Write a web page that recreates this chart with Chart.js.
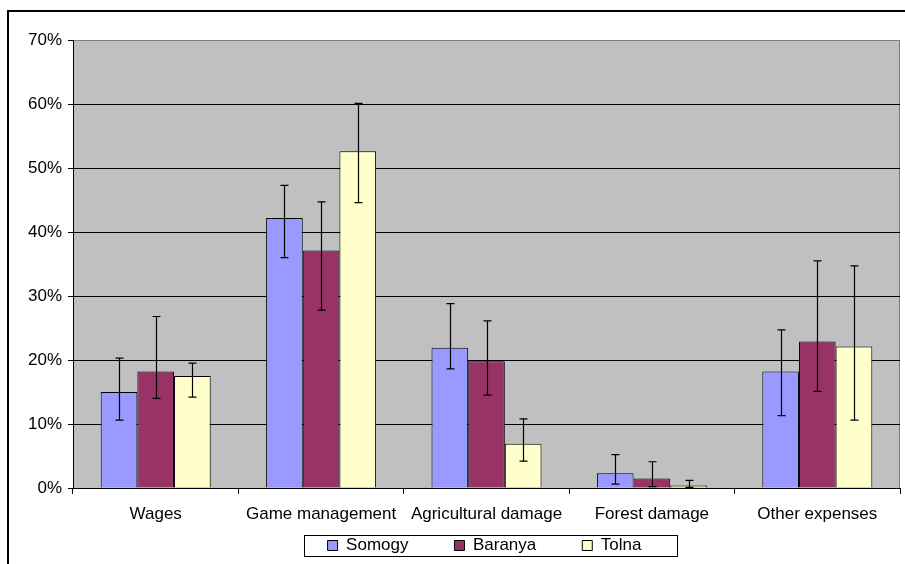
<!DOCTYPE html>
<html>
<head>
<meta charset="utf-8">
<script src="https://cdn.jsdelivr.net/npm/chart.js@4.4.1/dist/chart.umd.min.js"></script>
<style>
    html, body { margin: 0; padding: 0; background: #ffffff; }
    #wrap { width: 905px; height: 564px; position: relative; }
</style>
</head>
<body>
<div id="wrap"><canvas id="costChart" width="905" height="564"></canvas></div>
<script>
const categories = ['Wages', 'Game management', 'Agricultural damage', 'Forest damage', 'Other expenses'];
const seriesNames = ['Somogy', 'Baranya', 'Tolna'];

const somogy = [15.0, 42.2, 21.9, 2.3, 18.2];
const baranya = [18.2, 37.1, 19.8, 1.5, 22.9];
const tolna = [17.5, 52.6, 6.9, 0.4, 22.1];

// error bar ends (upper / lower), in %
const somogyHigh = [20.3, 47.3, 28.8, 5.2, 24.7];
const somogyLow = [10.6, 36.0, 18.6, 0.6, 11.3];
const baranyaHigh = [26.8, 44.7, 26.1, 4.1, 35.5];
const baranyaLow = [14.0, 27.8, 14.5, 0.2, 15.1];
const tolnaHigh = [19.5, 60.1, 10.8, 1.2, 34.7];
const tolnaLow = [14.2, 44.6, 4.2, 0.1, 10.6];

const yTicks = [0, 10, 20, 30, 40, 50, 60, 70];

const fontFamily = "'Liberation Sans', Arial, sans-serif";
const fontSize = 17;
const legendPadding = 46;

// grey plot area + outer frame
const plotBackground = {
    id: 'plotBackground',
    beforeDraw(chart) {
        const { ctx, chartArea } = chart;
        ctx.save();
        ctx.fillStyle = '#c0c0c0';
        ctx.fillRect(chartArea.left, chartArea.top, chartArea.right - chartArea.left, chartArea.bottom - chartArea.top);
        ctx.strokeStyle = '#808080';
        ctx.lineWidth = 1;
        ctx.strokeRect(chartArea.left + 0.5, chartArea.top + 0.5, chartArea.right - chartArea.left - 1, chartArea.bottom - chartArea.top);
        ctx.restore();
    },
    afterDraw(chart) {
        const ctx = chart.ctx;
        ctx.save();
        ctx.strokeStyle = '#000000';
        ctx.lineWidth = 2;
        ctx.beginPath();
        ctx.moveTo(8, 570);
        ctx.lineTo(8, 11);
        ctx.lineTo(910, 11);
        ctx.stroke();
        ctx.restore();
    }
};

const errorBars = {
    id: 'errorBars',
    afterDatasetsDraw(chart) {
        const ctx = chart.ctx;
        const yScale = chart.scales.y;
        const highs = [somogyHigh, baranyaHigh, tolnaHigh];
        const lows = [somogyLow, baranyaLow, tolnaLow];
        ctx.save();
        ctx.strokeStyle = '#000000';
        ctx.lineWidth = 1.2;
        chart.data.datasets.forEach((ds, i) => {
            const meta = chart.getDatasetMeta(i);
            meta.data.forEach((bar, j) => {
                const x = Math.round(bar.x) + 0.5;
                const top = yScale.getPixelForValue(highs[i][j]);
                const bottom = yScale.getPixelForValue(lows[i][j]);
                ctx.beginPath();
                ctx.moveTo(x, top);
                ctx.lineTo(x, bottom);
                ctx.moveTo(x - 4, top);
                ctx.lineTo(x + 4, top);
                ctx.moveTo(x - 4, bottom);
                ctx.lineTo(x + 4, bottom);
                ctx.stroke();
            });
        });
        ctx.restore();
    }
};

// move the legend to where the original has it and box it in
const legendFrame = {
    id: 'legendFrame',
    afterLayout(chart) {
        const lg = chart.legend;
        const w = lg.right - lg.left;
        lg.left = 484.5 - w / 2;
        lg.right = lg.left + w;
        lg.top = 545.5 - legendPadding - fontSize / 2;
        lg.bottom = 564;
        lg.height = lg.bottom - lg.top;
    },
    afterDraw(chart) {
        const boxes = chart.legend.legendHitBoxes;
        if (!boxes || !boxes.length) return;
        const first = boxes[0];
        const last = boxes[boxes.length - 1];
        const ctx = chart.ctx;
        const cy = first.top + first.height / 2;
        const left = Math.round(first.left - 24);
        const right = Math.round(last.left + last.width + 36);
        ctx.save();
        ctx.strokeStyle = '#000000';
        ctx.lineWidth = 1;
        ctx.strokeRect(left + 0.5, Math.round(cy - 11) + 0.5, right - left, 21);
        ctx.restore();
    }
};

document.addEventListener('DOMContentLoaded', function() {
    renderChart();
});

function renderChart() {
    new Chart(document.getElementById('costChart').getContext('2d'), {
        type: 'bar',
        data: {
            labels: categories,
            datasets: [
                { label: seriesNames[0], data: somogy, backgroundColor: '#9999ff', borderColor: '#000000', borderWidth: 1 },
                { label: seriesNames[1], data: baranya, backgroundColor: '#993366', borderColor: '#000000', borderWidth: 1 },
                { label: seriesNames[2], data: tolna, backgroundColor: '#ffffcc', borderColor: '#000000', borderWidth: 1 }
            ]
        },
        options: {
            responsive: false,
            animation: false,
            devicePixelRatio: 1,
            categoryPercentage: 0.665,
            barPercentage: 1.0,
            layout: { padding: { top: 40, left: 10, right: 5, bottom: 11 } },
            scales: {
                x: {
                    grid: { drawOnChartArea: false, drawTicks: true, tickLength: 6, color: '#000000', offset: true },
                    border: { color: '#000000', width: 1 },
                    ticks: { color: '#000000', padding: 10, maxRotation: 0, font: { family: fontFamily, size: fontSize } },
                    afterFit: scale => { scale.height = 40; }
                },
                y: {
                    min: 0,
                    max: 70,
                    afterBuildTicks: scale => { scale.ticks = yTicks.map(v => ({ value: v })); },
                    grid: {
                        color: c => (c.tick && c.tick.value === 70 ? '#808080' : '#000000'),
                        tickColor: '#000000',
                        tickLength: 5
                    },
                    border: { color: '#000000', width: 1 },
                    ticks: {
                        color: '#000000',
                        padding: 6,
                        font: { family: fontFamily, size: fontSize },
                        callback: v => v + '%'
                    },
                    afterFit: scale => { scale.width = 63; }
                }
            },
            plugins: {
                legend: {
                    position: 'bottom',
                    maxHeight: 25,
                    labels: {
                        boxWidth: 10,
                        boxHeight: 10,
                        padding: legendPadding,
                        color: '#000000',
                        font: { family: fontFamily, size: fontSize }
                    }
                },
                tooltip: { enabled: false }
            }
        },
        plugins: [plotBackground, errorBars, legendFrame]
    });
}
</script>
</body>
</html>
